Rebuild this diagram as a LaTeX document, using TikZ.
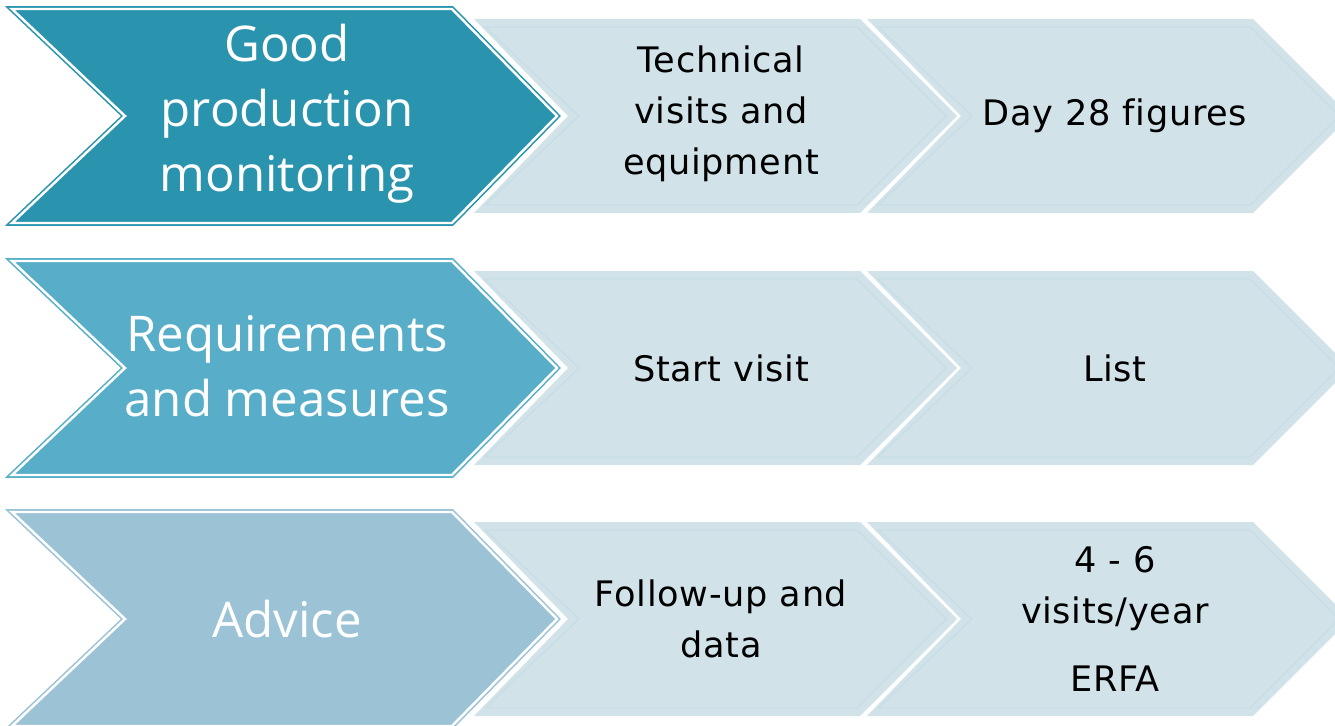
\documentclass[tikz,border=0pt]{standalone}
\usepackage{fontspec}
\usepackage{xcolor}
\usepackage{tikz}
\usetikzlibrary{positioning}
\newfontfamily\headfont{Open Sans}
\newfontfamily\stepfont[Ligatures=NoCommon, LetterSpace=2]{DejaVu Sans}
\definecolor{darkteal}{RGB}{42, 147, 174}
\definecolor{midteal}{RGB}{88, 174, 201}
\definecolor{paleteal}{RGB}{155, 195, 213}
\definecolor{stepblue}{RGB}{209, 227, 233}
\definecolor{steprule}{RGB}{200, 221, 229}

\begin{document}
\begin{tikzpicture}[
  x=0.02cm, y=-0.02cm,
  mainarrow/.style={line width=0.9pt, double=white, double distance=1.4pt},
  steparrow/.style={fill=stepblue, draw=none},
  stepline/.style={draw=steprule, line width=0.8pt},
  mainlabel/.style={font=\headfont\fontsize{28}{37}\selectfont, text=white, align=center},
  steplabel/.style={font=\stepfont\fontsize{20}{29}\selectfont, text=black, align=center},
]
  \useasboundingbox (0,0) rectangle (1335,726);

  % Light step chevrons (two per row)
  \foreach \cy in {116, 368, 619} {
    \foreach \x in {474, 867} {
      \fill[steparrow] (\x,{\cy-97}) -- ({\x+386},{\cy-97}) -- ({\x+483},\cy)
        -- ({\x+386},{\cy+97}) -- (\x,{\cy+97}) -- ({\x+94},\cy) -- cycle;
      \draw[stepline] ({\x+11},{\cy-89}) -- ({\x+383},{\cy-89}) -- ({\x+472},\cy)
        -- ({\x+383},{\cy+89}) -- ({\x+11},{\cy+89}) -- ({\x+105},\cy) -- cycle;
    }
  }

  % Main chevrons (left column)
  \foreach \cy/\col in {116/darkteal, 368/midteal, 619/paleteal} {
    \draw[mainarrow, fill=\col, draw=\col] (12,{\cy-107}) -- (452,{\cy-107}) -- (557,\cy)
      -- (452,{\cy+107}) -- (12,{\cy+107}) -- (125,\cy) -- cycle;
  }

  % Row 1
  \node[mainlabel] (good) at (287,114) {Good\\production\\monitoring};
  \node[steplabel] (technical) at (721,114) {Technical\\visits and\\equipment};
  \node[steplabel] (day28) at (1115,116) {Day 28 figures};

  % Row 2
  \node[mainlabel] (requirements) at (287,366) {Requirements\\and measures};
  \node[steplabel] (startvisit) at (721,368) {Start visit};
  \node[steplabel] (list) at (1115,368) {List};

  % Row 3
  \node[mainlabel] (advice) at (287,619) {Advice};
  \node[steplabel] (followup) at (721,619) {Follow-up and\\data};
  \node[steplabel] (visits) at (1115,619) {4 - 6\\visits/year\\[10pt]ERFA};

\end{tikzpicture}
\end{document}
